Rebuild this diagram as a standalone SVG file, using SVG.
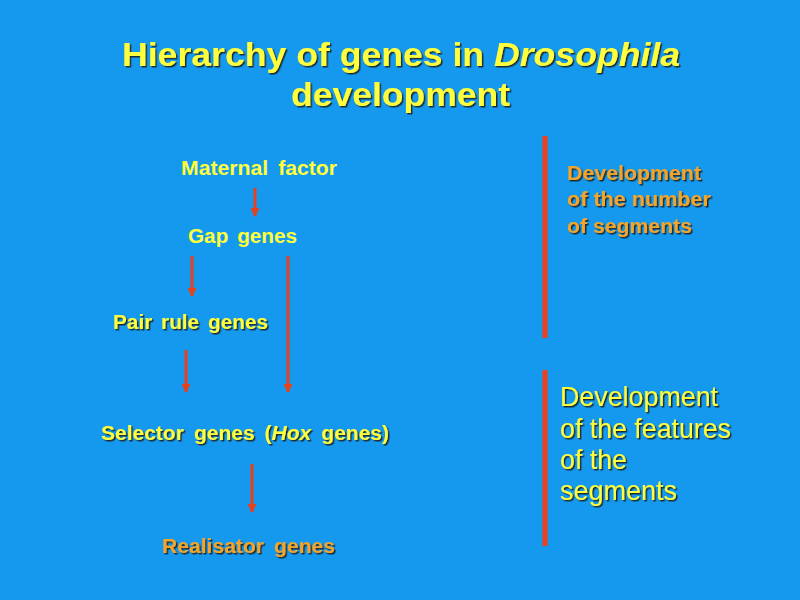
<svg xmlns="http://www.w3.org/2000/svg" width="800" height="600" viewBox="0 0 800 600">
<defs>
<style>
text{font-family:"Liberation Sans",Arial,sans-serif}
.sh{filter:url(#ds)}
.y{fill:#ffff3c}
.o{fill:#f2a52a}
.t{font-size:33px;font-weight:bold}
.n{font-size:20px;font-weight:bold}
.f{font-size:28px}
.c{stroke:#e8401c;stroke-width:3;fill:none}
.bar{stroke:#f0401c;stroke-width:5}
</style>
<filter id="ds" x="-10%" y="-20%" width="120%" height="150%">
<feDropShadow dx="1.5" dy="1.5" stdDeviation="0.4" flood-color="#1a1a1a" flood-opacity="0.9"/>
</filter>
<marker id="ah" viewBox="0 0 10 10" refX="9" refY="5" markerWidth="3" markerHeight="3" orient="auto" markerUnits="strokeWidth">
<path d="M0,0 L10,5 L0,10 z" fill="#e8401c"/>
</marker>
</defs>
<rect width="800" height="600" fill="#1499ee"/>
<g id="title" class="sh">
<text class="t y" x="122" y="66" textLength="558" lengthAdjust="spacingAndGlyphs">Hierarchy of genes in <tspan font-style="italic">Drosophila</tspan></text>
<text class="t y" x="291" y="106" textLength="219" lengthAdjust="spacingAndGlyphs">development</text>
</g>
<g id="maternal"><text class="n y" x="181" y="175" textLength="156" lengthAdjust="spacingAndGlyphs" word-spacing="4">Maternal factor</text></g>
<g id="gap"><text class="n y" x="188" y="243" textLength="109" lengthAdjust="spacingAndGlyphs" word-spacing="3">Gap genes</text></g>
<g id="pairrule" class="sh"><text class="n y" x="113" y="329" textLength="155" lengthAdjust="spacingAndGlyphs" word-spacing="3">Pair rule genes</text></g>
<g id="selector" class="sh"><text class="n y" x="101" y="440" textLength="288" lengthAdjust="spacingAndGlyphs" word-spacing="4">Selector genes (<tspan font-style="italic">Hox</tspan> genes)</text></g>
<g id="realisator" class="sh"><text class="n o" x="162" y="553" textLength="173" lengthAdjust="spacingAndGlyphs" word-spacing="4">Realisator genes</text></g>
<g id="connectors">
<line class="c" x1="255" y1="188" x2="255" y2="216" marker-end="url(#ah)"/>
<line class="c" x1="192" y1="256" x2="192" y2="296" marker-end="url(#ah)"/>
<line class="c" x1="288" y1="256" x2="288" y2="392" marker-end="url(#ah)"/>
<line class="c" x1="186" y1="350" x2="186" y2="392" marker-end="url(#ah)"/>
<line class="c" x1="252" y1="464" x2="252" y2="512" marker-end="url(#ah)"/>
</g>
<g id="bar1"><line class="bar" x1="545" y1="136" x2="545" y2="338"/></g>
<g id="bar2"><line class="bar" x1="545" y1="370" x2="545" y2="546"/></g>
<g id="number" class="sh">
<text class="n o" x="567" y="180" textLength="134" lengthAdjust="spacingAndGlyphs">Development</text>
<text class="n o" x="567" y="206" textLength="144" lengthAdjust="spacingAndGlyphs">of the number</text>
<text class="n o" x="567" y="233" textLength="125" lengthAdjust="spacingAndGlyphs">of segments</text>
</g>
<g id="features" class="sh">
<text class="f y" x="560" y="406" textLength="158" lengthAdjust="spacingAndGlyphs">Development</text>
<text class="f y" x="560" y="438" textLength="171" lengthAdjust="spacingAndGlyphs">of the features</text>
<text class="f y" x="560" y="469" textLength="67" lengthAdjust="spacingAndGlyphs">of the</text>
<text class="f y" x="560" y="500" textLength="117" lengthAdjust="spacingAndGlyphs">segments</text>
</g>
</svg>
